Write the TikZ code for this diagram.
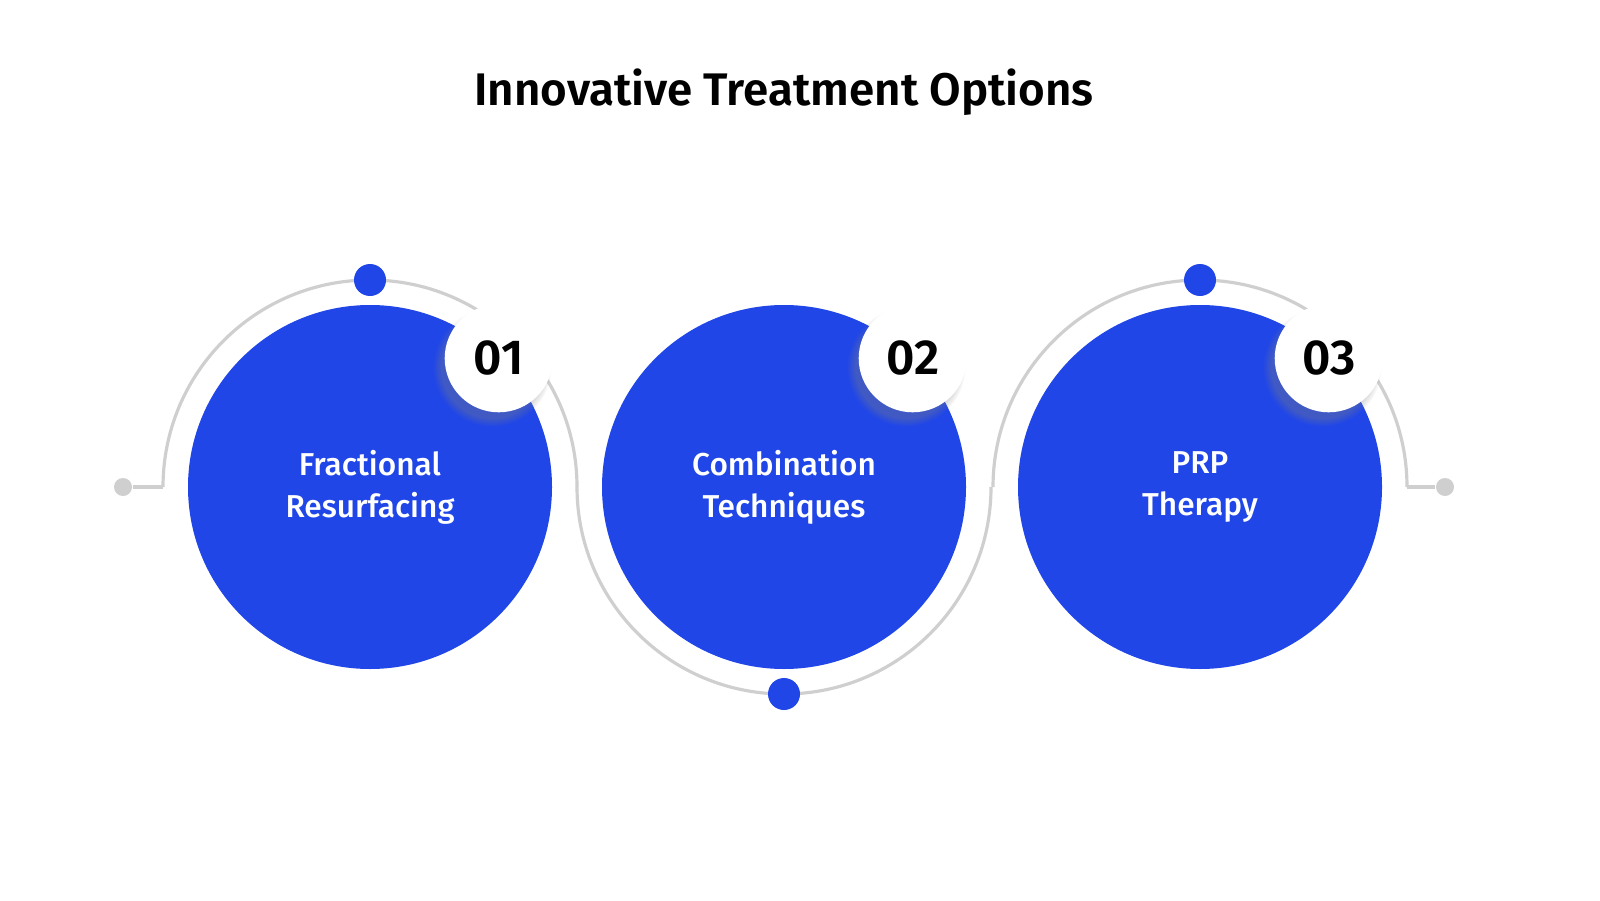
\documentclass[tikz,border=0pt]{standalone}
\usepackage{fontspec}
\setmainfont{Fira Sans}[BoldFont={Fira Sans SemiBold}]
\newfontfamily\labelfont{Fira Sans Medium}
\usetikzlibrary{positioning,calc,shadows}
\definecolor{stepblue}{HTML}{2046E8}
\definecolor{ringgray}{HTML}{CFCFCF}
\begin{document}
\begin{tikzpicture}
  \tikzstyle{option}=[circle, fill=stepblue, minimum size=3.64cm, inner sep=0pt, text=white, align=center, font=\fontsize{9}{12}\selectfont\labelfont]
  \tikzstyle{badge}=[circle, fill=white, minimum size=1.08cm, inner sep=0pt, font=\fontsize{14}{16}\selectfont\bfseries, circular drop shadow={shadow xshift=-0.06cm, shadow yshift=-0.08cm, opacity=0.35}]
  \tikzstyle{ring}=[ringgray, line width=0.9pt]
  \tikzstyle{bluedot}=[circle, fill=stepblue, minimum size=0.32cm, inner sep=0pt]
  \tikzstyle{graydot}=[circle, fill=ringgray, minimum size=0.18cm, inner sep=0pt]
  \useasboundingbox[fill=white] (0,0) rectangle (16,9);

  % Titel
  \node[font=\fontsize{13}{15}\selectfont\bfseries] (title) at (7.84,8.08) {Innovative Treatment Options};

  % Boegen
  \draw[ring] (1.63,4.13) arc[start angle=180, end angle=0, radius=2.07];
  \draw[ring] (5.77,4.13) arc[start angle=180, end angle=360, radius=2.07];
  \draw[ring] (9.93,4.13) arc[start angle=180, end angle=0, radius=2.07];

  % Endpunkte
  \node[graydot] (l) at (1.23,4.13) {};
  \node[graydot] (r) at (14.45,4.13) {};
  \coordinate (la) at (1.63,4.13);
  \coordinate (ra) at (14.07,4.13);
  \draw[ring] (l) -- (la);
  \draw[ring] (r) -- (ra);

  % Optionen
  \node[option] (o1) at (3.70,4.13) {Fractional\\Resurfacing};
  \node[option] (o2) at (7.84,4.13) {Combination\\Techniques};
  \node[option] (o3) at (12.00,4.13) {PRP\\Therapy};

  % Punkte auf den Boegen
  \node[bluedot] (d1) at (3.70,6.20) {};
  \node[bluedot] (d2) at (7.84,2.06) {};
  \node[bluedot] (d3) at (12.00,6.20) {};

  % Nummern
  \node[badge] (n1) at ($(o1)+(45:1.82)$) {01};
  \node[badge] (n2) at ($(o2)+(45:1.82)$) {02};
  \node[badge] (n3) at ($(o3)+(45:1.82)$) {03};
\end{tikzpicture}
\end{document}
